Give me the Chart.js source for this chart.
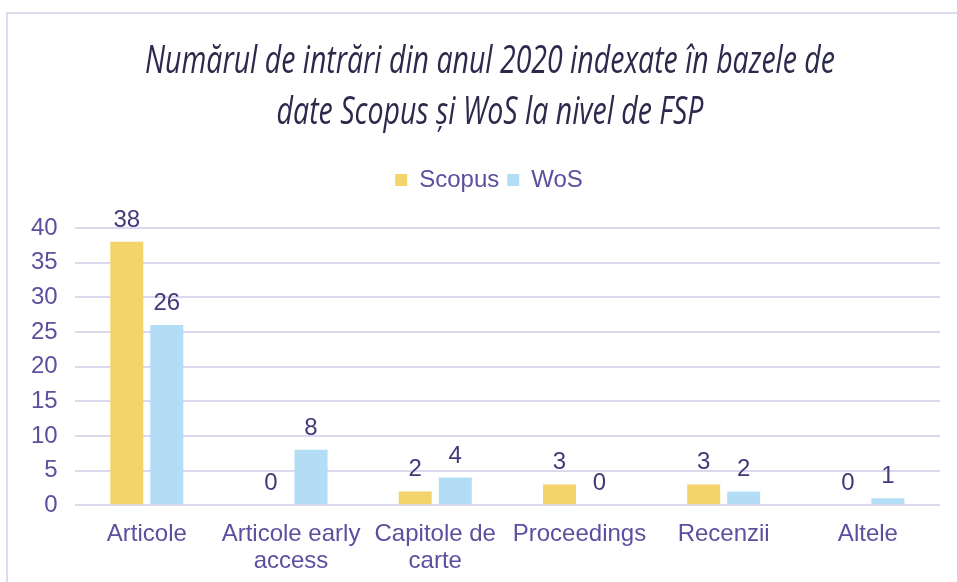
<!DOCTYPE html>
<html>
<head>
<meta charset="utf-8">
<script src="https://cdn.jsdelivr.net/npm/chart.js@4.4.1/dist/chart.umd.min.js"></script>
<style>
  html, body { margin: 0; padding: 0; background: #fff; }
  .wrap { position: relative; width: 957px; height: 582px; overflow: hidden; }
  .frame { position: absolute; left: 6px; top: 12px; width: 1000px; height: 600px; border-left: 2px solid #dedbee; border-top: 2px solid #dedbee; }
  canvas { position: absolute; left: 0; top: 0; }
</style>
</head>
<body>
<div class="wrap">
  <div class="frame"></div>
  <canvas id="fspChart" width="957" height="582"></canvas>
</div>
<script>
// date
const categorii = [
  'Articole',
  ['Articole early', 'access'],
  ['Capitole de', 'carte'],
  'Proceedings',
  'Recenzii',
  'Altele',
];
const scopus = [38, 0, 2, 3, 3, 0];
const wos = [26, 8, 4, 0, 2, 1];
const yTicks = [0, 5, 10, 15, 20, 25, 30, 35, 40];
const titlu = ['Numărul de intrări din anul 2020 indexate în bazele de', 'date Scopus și WoS la nivel de FSP'];

const textColor = '#5b4f9e';
const labelColor = '#3f3a78';
const fontArial = '"Liberation Sans", Arial, sans-serif';

// titlul: italic ingust (font condensat simulat prin scalare orizontala)
const titluPlugin = {
  id: 'titluIngust',
  afterDraw(chart) {
    const ctx = chart.ctx;
    ctx.save();
    ctx.font = 'italic 38px "Open Sans", sans-serif';
    ctx.fillStyle = '#2b2a4c';
    ctx.textAlign = 'center';
    ctx.textBaseline = 'middle';
    const w = ctx.measureText(titlu[0]).width;
    const sx = 690 / w;
    titlu.forEach((linie, i) => {
      ctx.save();
      ctx.translate(490, 62 + i * 51);
      ctx.scale(sx, 1);
      ctx.fillText(linie, 0, 0);
      ctx.restore();
    });
    ctx.restore();
  },
};

// spatiu suplimentar sub legenda + mutare usoara spre dreapta
const spatiuLegenda = {
  id: 'spatiuLegenda',
  beforeInit(chart) {
    const legenda = chart.legend;
    const fitOrig = legenda.fit;
    legenda.fit = function () {
      fitOrig.bind(this)();
      this.height += 26;
    };
    const drawOrig = legenda.draw;
    legenda.draw = function () {
      const c = this.ctx;
      c.save();
      c.translate(12, 0);
      drawOrig.bind(this)();
      c.restore();
    };
  },
};

// plugin mic pentru valorile de deasupra barelor
const valoriPlugin = {
  id: 'valori',
  afterDatasetsDraw(chart) {
    const ctx = chart.ctx;
    ctx.save();
    ctx.font = '24px ' + fontArial;
    ctx.fillStyle = labelColor;
    ctx.textAlign = 'center';
    ctx.textBaseline = 'alphabetic';
    chart.data.datasets.forEach((ds, i) => {
      chart.getDatasetMeta(i).data.forEach((bar, j) => {
        ctx.fillText(String(ds.data[j]), bar.x, bar.y - 15);
      });
    });
    ctx.restore();
  },
};

const ctx = document.getElementById('fspChart').getContext('2d');
new Chart(ctx, {
  type: 'bar',
  data: {
    labels: categorii,
    datasets: [
      {
        label: 'Scopus',
        data: scopus,
        backgroundColor: '#f2d46b',
        categoryPercentage: 0.555,
        barPercentage: 0.825,
      },
      {
        label: 'WoS',
        data: wos,
        backgroundColor: '#b2ddf5',
        categoryPercentage: 0.555,
        barPercentage: 0.825,
      },
    ],
  },
  options: {
    responsive: false,
    animation: false,
    layout: { padding: { top: 160, right: 17, left: 14, bottom: -9 } },
    plugins: {
      title: { display: false },
      legend: {
        display: true,
        position: 'top',
        labels: {
          color: textColor,
          boxWidth: 12,
          boxHeight: 12,
          padding: 8,
          font: { family: fontArial, size: 24 },
        },
      },
      tooltip: { enabled: false },
    },
    scales: {
      x: {
        grid: { display: false, drawTicks: false },
        border: { display: false },
        ticks: {
          color: textColor,
          maxRotation: 0,
          autoSkip: false,
          padding: 16,
          font: { family: fontArial, size: 24, lineHeight: 1.12 },
        },
      },
      y: {
        min: 0,
        max: 40,
        afterBuildTicks(axis) {
          axis.ticks = yTicks.map((v) => ({ value: v }));
        },
        grid: { color: '#dcd9ee', lineWidth: 2, drawTicks: false },
        border: { display: false },
        ticks: {
          color: textColor,
          padding: 17,
          font: { family: fontArial, size: 24 },
        },
      },
    },
  },
  plugins: [spatiuLegenda, valoriPlugin, titluPlugin],
});
</script>
</body>
</html>
